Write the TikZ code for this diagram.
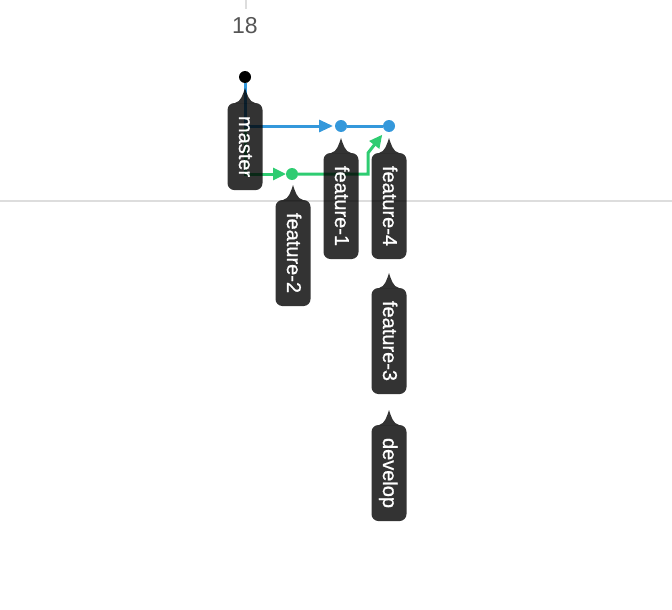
\documentclass[tikz,border=0pt]{standalone}
\usepackage{fontspec}
\setmainfont{Liberation Sans}
\newfontfamily\tagfont[FakeBold=0.8]{Liberation Sans}
\usetikzlibrary{arrows.meta}
\definecolor{gitblue}{RGB}{52, 152, 219}
\definecolor{gitgreen}{RGB}{46, 204, 113}
\definecolor{gridgray}{RGB}{221, 221, 221}
\definecolor{daygray}{RGB}{85, 85, 85}
\tikzset{
  dot/.style={circle, minimum size=12pt, inner sep=0pt, outer sep=0pt},
  branch/.style={line width=3pt},
  reftag/.style={rotate=-90, anchor=west, fill=black, fill opacity=0.8, text opacity=1,
    text=white, rounded corners=7pt, inner xsep=13pt, inner ysep=0pt, outer sep=0pt,
    minimum height=35pt, text height=15.5pt, text depth=3.5pt,
    font=\tagfont\fontsize{20}{24}\selectfont},
  tagtip/.style={fill=black, fill opacity=0.8}
}

\begin{document}
\begin{tikzpicture}[x=1pt, y=-1pt]
  \useasboundingbox (0,0) rectangle (672,610);
  \coordinate (tick) at (246,0);
  \draw[gridgray, line width=1.5pt] (tick) -- ++(0,9);
  \node[text=daygray, font=\fontsize{23}{28}\selectfont] (day) at (245,26) {18};
  \draw[gridgray, line width=2pt] (0,201) -- (672,201);

  \node[dot, fill=black] (c0) at (245,77) {};
  \node[dot, fill=gitblue] (c1) at (341,126) {};
  \node[dot, fill=gitblue] (c2) at (389,126) {};
  \node[dot, fill=gitgreen] (c3) at (292,174) {};
  \coordinate (bend) at (368,153);

  \draw[branch, gitgreen, -{Triangle[length=13pt, width=12pt]}] (c0) |- (c3);
  \draw[branch, gitblue, -{Triangle[length=14pt, width=12pt]}, shorten >=2pt] (c0) |- (c1);
  \draw[branch, gitblue] (c1) -- (c2);
  \draw[branch, gitgreen, -{Triangle[length=13pt, width=12pt]}, shorten >=5pt] (c3) -| (bend) -- (c2);

  \foreach \nm/\x/\y/\txt in {master/245/103/master, feat2/293/200/feature-2,
      feat1/341/153/feature-1, feat4/389/153/feature-4,
      feat3/389/288/feature-3, develop/389/425/develop}{
    \node[reftag] (\nm) at (\x,\y) {\txt};
    \fill[tagtip, shift={(\nm.west)}] (-10,0) .. controls (-4,-1) and (-2,-9) .. (0,-15)
      .. controls (2,-9) and (4,-1) .. (10,0) -- cycle;
  }
\end{tikzpicture}
\end{document}
